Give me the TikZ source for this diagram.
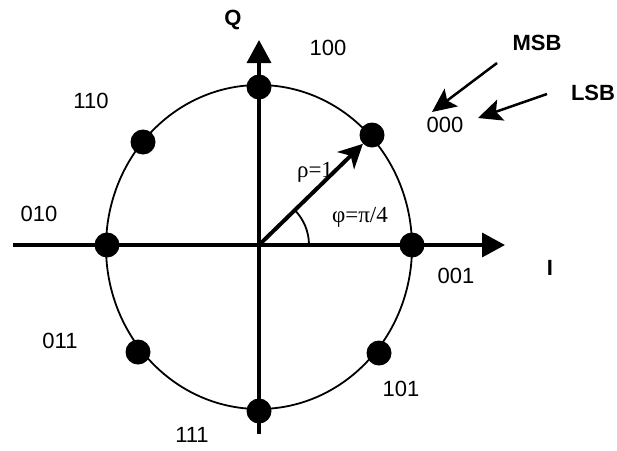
\documentclass[tikz,border=0pt]{standalone}
\usepackage{fontspec}
\setmainfont{Liberation Sans}
\newfontfamily\greekfont{Liberation Serif}
\usetikzlibrary{arrows.meta,calc,positioning}

\tikzset{
    dot/.style={circle, fill=black, inner sep=0pt, minimum size=25pt},
    bits/.style={font=\fontsize{22}{26}\selectfont, inner sep=0pt},
    axislabel/.style={font=\fontsize{22}{26}\selectfont\bfseries, inner sep=0pt},
    greeklabel/.style={font=\greekfont\fontsize{23}{27}\selectfont, inner sep=0pt},
    axisline/.style={line width=3.5pt, -{Triangle[length=23pt, width=24pt]}},
    pointer/.style={line width=2.5pt, -{Stealth[length=24pt, width=22pt, inset=5pt]}}
}

\begin{document}
\begin{tikzpicture}[x=1pt, y=-1pt]
    \useasboundingbox (0,0) rectangle (617,450);

    % Axes
    \coordinate (O) at (259,245);
    \coordinate (i-start) at (13,245);
    \coordinate (i-tip) at (505,245);
    \coordinate (q-start) at (259,434);
    \coordinate (q-tip) at (259,40);
    \draw[axisline] (i-start) -- (i-tip);
    \draw[axisline] (q-start) -- (q-tip);

    % Unit circle
    \draw[line width=1.8pt] (259,247) ellipse [x radius=153pt, y radius=162pt];

    % Constellation points
    \node[dot] (p100) at (259,87) {};
    \node[dot] (p110) at (143,142) {};
    \node[dot] (p010) at (107,245) {};
    \node[dot] (p011) at (138,352) {};
    \node[dot] (p111) at (259,411) {};
    \node[dot] (p101) at (379,353) {};
    \node[dot] (p001) at (412,245) {};
    \node[dot] (p000) at (372,135) {};

    % Phasor and angle
    \draw[line width=4pt, -{Stealth[length=24pt, width=24pt, inset=7pt]}] (O) -- (p000);
    \draw[line width=1.8pt] (309,245) arc[start angle=0, end angle=45, radius=50pt];
    \node[greeklabel] (rho) at (315,172) {ρ=1};
    \node[greeklabel] (phi) at (360,217) {φ=π/4};

    % Bit labels
    \node[bits] (l100) at (328,48) {100};
    \node[bits] (l110) at (91,101) {110};
    \node[bits] (l010) at (39,214) {010};
    \node[bits] (l011) at (60,341) {011};
    \node[bits] (l111) at (192,435) {111};
    \node[bits] (l101) at (401,389) {101};
    \node[bits] (l001) at (456,276) {001};
    \node[bits] (l000) at (445,125) {000};

    % Axis names
    \node[axislabel] (q-name) at (233,20) {Q};
    \node[axislabel] (i-name) at (550,268) {I};

    % MSB / LSB pointers
    \node[axislabel] (msb) at (537,43) {MSB};
    \node[axislabel] (lsb) at (593,93) {LSB};
    \coordinate (msb-from) at (497,63);
    \coordinate (msb-to) at (432,112);
    \coordinate (lsb-from) at (547,94);
    \coordinate (lsb-to) at (478,118);
    \draw[pointer] (msb-from) -- (msb-to);
    \draw[pointer] (lsb-from) -- (lsb-to);
\end{tikzpicture}
\end{document}
